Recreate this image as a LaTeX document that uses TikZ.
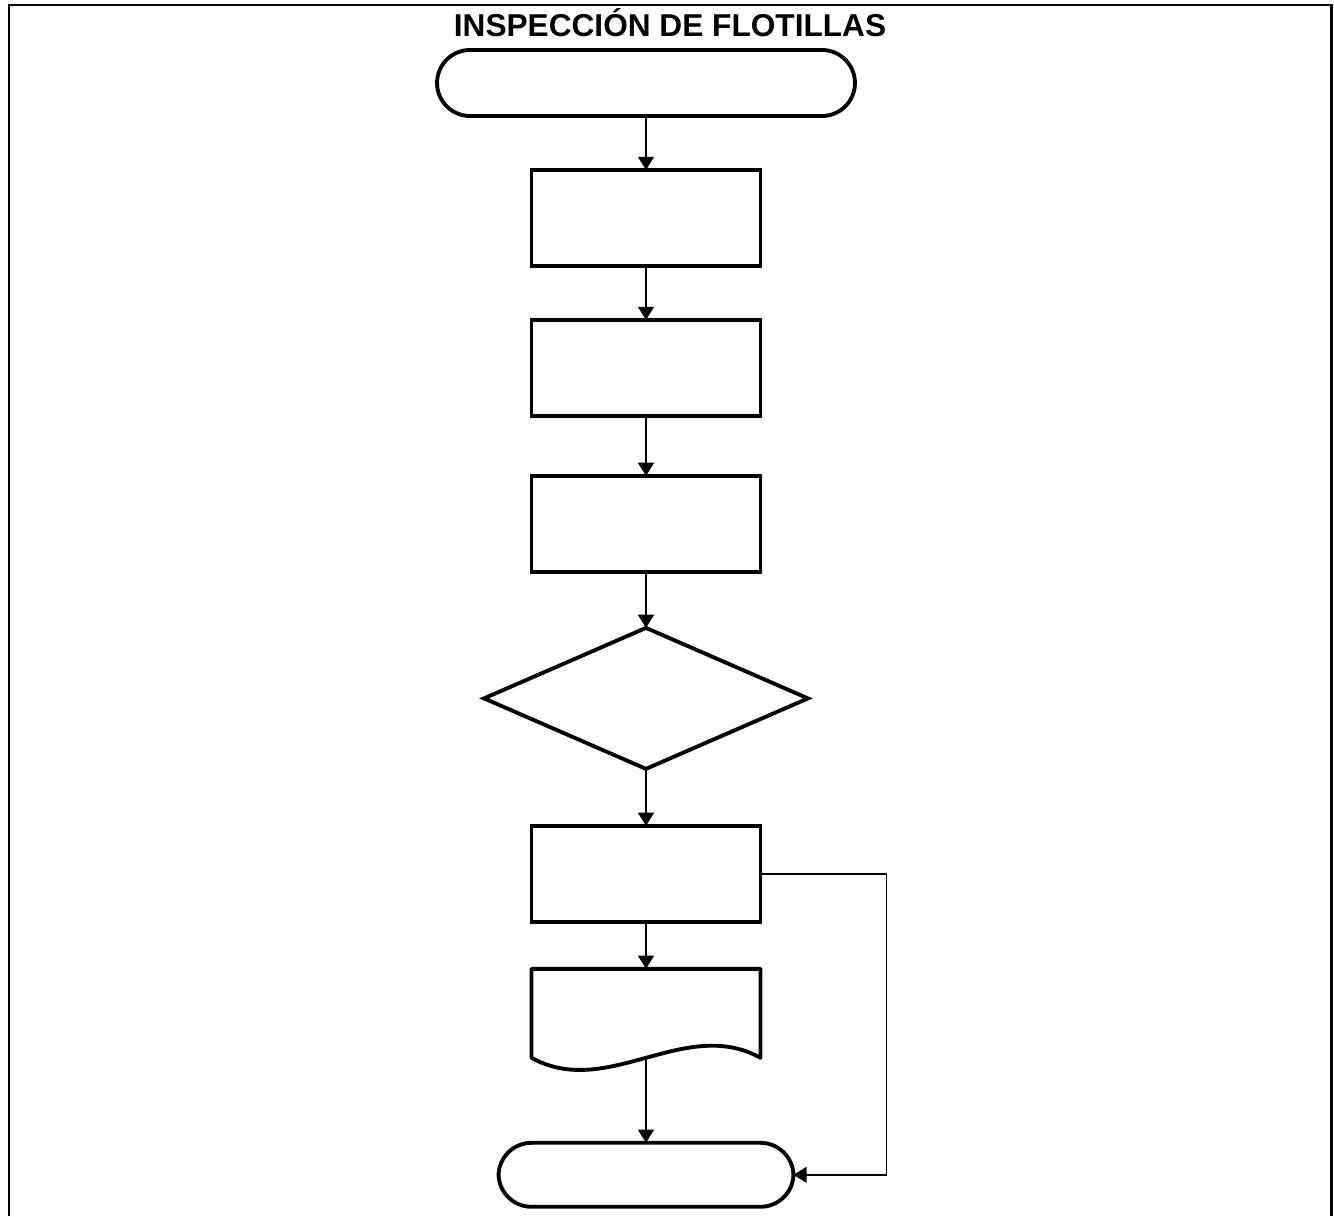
\documentclass[tikz,border=0pt]{standalone}
\usepackage{fontspec}
\setmainfont{Liberation Sans}
\usetikzlibrary{positioning,shapes.geometric,arrows.meta}

\begin{document}
\begin{tikzpicture}[%
    x=0.02cm,
    y=-0.02cm,
    ->,
    >={Triangle[length=7.5pt,width=9pt]},
    line width=1.1pt,
    node distance=1.1cm,
    terminal/.style={%
      rectangle,
      rounded corners=0.66cm,
      minimum width=8.36cm,
      minimum height=1.32cm,
      inner sep=0pt,
      outer sep=0pt,
      line width=2.2pt,
      draw
    },
    process/.style={%
      rectangle,
      minimum width=4.58cm,
      minimum height=1.92cm,
      inner sep=0pt,
      outer sep=0pt,
      line width=2.2pt,
      draw
    },
    decision/.style={%
      diamond,
      minimum width=6.48cm,
      minimum height=2.82cm,
      inner sep=0pt,
      outer sep=0pt,
      line width=2.2pt,
      draw
    },
    docbox/.style={%
      rectangle,
      minimum width=4.58cm,
      minimum height=1.78cm,
      inner sep=0pt,
      outer sep=0pt
    }
  ]
    \useasboundingbox (0,0) rectangle (1334,1216);

    % marco abierto por abajo
    \draw[-, line width=1.7pt] (9,1216) -- (9,5) -- (1331,5) -- (1331,1216);

    \node[font=\bfseries\fontsize{18}{21}\selectfont, anchor=base] (titulo) at (670,37) {INSPECCIÓN DE FLOTILLAS};

    \node[terminal] (inicio) at (646,83)                           	{};
    \node[process]  (paso1)  [below=1.08cm of inicio]              	{};
    \node[process]  (paso2)  [below=1.08cm of paso1]               	{};
    \node[process]  (paso3)  [below=1.2cm of paso2]                	{};
    \node[decision] (decide) [below=1.12cm of paso3]               	{};
    \node[process]  (paso4)  [below=1.14cm of decide]              	{};
    \node[docbox]   (reporte) [below=0.94cm of paso4]              	{};
    \node[terminal, minimum width=5.9cm, minimum height=1.28cm] (fin) [below=1.7cm of reporte] {};

    % documento con borde ondulado
    \draw[-, line width=2.2pt, line join=round]
      (reporte.south west) -- (reporte.north west) -- (reporte.north east)
      -- (reporte.south east) .. controls +(-76,-42) and +(76,42) .. (reporte.south west) -- cycle;

    \path (inicio) edge (paso1)
          (paso1)  edge (paso2)
          (paso2)  edge (paso3)
          (paso3)  edge (decide)
          (decide) edge (paso4)
          (paso4)  edge (reporte)
          (reporte.south) edge (fin);

    \draw (paso4.east) -- ++(126,0) |- (fin.east);
  \end{tikzpicture}
\end{document}
